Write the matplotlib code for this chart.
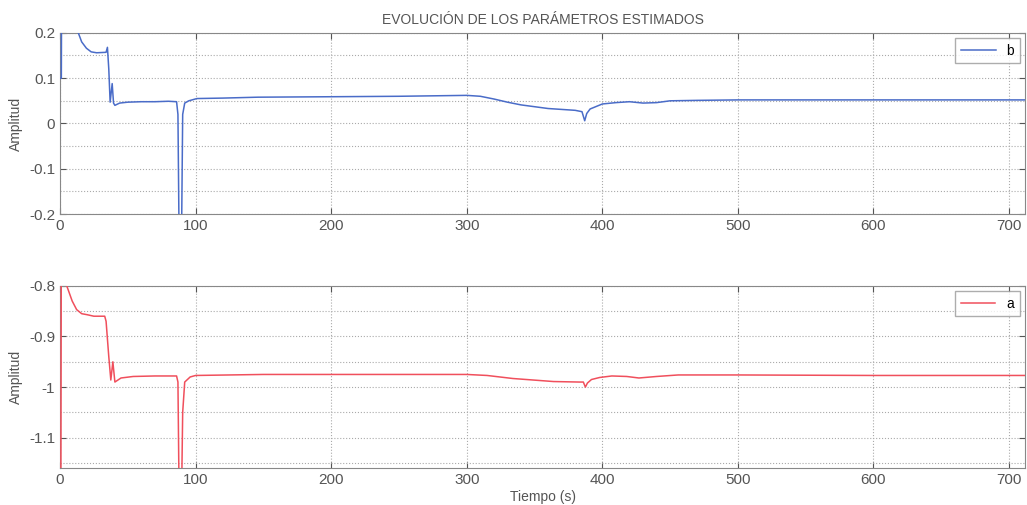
import matplotlib.pyplot as plt
from matplotlib.ticker import MultipleLocator

plt.rcParams['font.family'] = ['Liberation Sans', 'DejaVu Sans']

TITLE = "EVOLUCIÓN DE LOS PARÁMETROS ESTIMADOS"

# parámetro b
t_b = [0, 1.0, 1.2, 13.5, 16, 19.5, 23, 27, 34, 35, 36, 37, 38.5, 39.5, 40.5, 44, 50,
       60, 70, 80, 86, 87, 88, 89.5, 90.5, 92, 95, 101, 120, 146, 200, 250, 300, 310,
       320, 330, 340, 360, 380, 385, 387, 388.5, 391, 400, 410, 420, 430, 440, 450, 470,
       500, 550, 600, 650, 712]
b = [0.1, 0.1, 0.3, 0.2, 0.18, 0.166, 0.158, 0.156, 0.157, 0.168, 0.12, 0.047, 0.088,
     0.045, 0.040, 0.045, 0.047, 0.048, 0.048, 0.049, 0.048, 0.02, -0.3, -0.3, 0.02,
     0.045, 0.05, 0.055, 0.056, 0.058, 0.059, 0.060, 0.062, 0.060, 0.054, 0.047, 0.041,
     0.033, 0.029, 0.026, 0.006, 0.022, 0.032, 0.043, 0.046, 0.048, 0.045, 0.046,
     0.050, 0.051, 0.052, 0.052, 0.052, 0.052, 0.052]

# parámetro a
t_a = [0.3, 0.6, 1.0, 5, 9, 12.3, 16, 20, 25, 33, 34, 36, 37.5, 39, 40.5, 45, 54, 70, 86,
       87, 88, 89.5, 90.5, 92, 96, 100, 150, 200, 250, 300, 315, 334, 364, 383, 386,
       387.5, 389, 392, 398, 407, 418, 427, 440, 456, 500, 600, 712]
a = [-1.3, -1.3, -0.7, -0.8, -0.83, -0.847, -0.855, -0.857, -0.86, -0.86, -0.87,
     -0.94, -0.986, -0.95, -0.99, -0.982, -0.979, -0.978, -0.978, -0.99, -1.25, -1.25,
     -1.05, -0.99, -0.98, -0.977, -0.975, -0.975, -0.975, -0.975, -0.977, -0.983,
     -0.989, -0.99, -0.99, -1.0, -0.992, -0.985, -0.981, -0.978, -0.979, -0.982,
     -0.979, -0.976, -0.976, -0.977, -0.977]

BLUE = "#4a6cc8"
RED = "#f04f5c"
GRAY = "#555555"


def style_axes(ax, ylim, ymaj):
    ax.set_xlim(0, 712)
    ax.set_ylim(*ylim)
    ax.xaxis.set_major_locator(MultipleLocator(100))
    ax.yaxis.set_major_locator(MultipleLocator(ymaj))
    ax.yaxis.set_minor_locator(MultipleLocator(ymaj / 2))
    ax.grid(True, which="major", axis="x", linestyle=":", color="#aaaaaa", linewidth=0.8)
    ax.grid(True, which="both", axis="y", linestyle=":", color="#aaaaaa", linewidth=0.8)
    ax.tick_params(which="both", direction="in", right=True, top=True,
                   labelsize=11, colors=GRAY, length=4)
    ax.tick_params(which="minor", length=0)
    for sp in ax.spines.values():
        sp.set_color("#888888")
    ax.set_ylabel("Amplitud", fontsize=10, color=GRAY)


fig = plt.figure(figsize=(10.27, 5.05), dpi=100)
ax1 = fig.add_axes([0.0584, 0.576, 0.940, 0.359])
ax2 = fig.add_axes([0.0584, 0.073, 0.940, 0.361])

ax1.plot(t_b, b, color=BLUE, linewidth=1.1, label="b", zorder=3)
style_axes(ax1, (-0.2, 0.2), 0.1)
ax1.yaxis.set_major_formatter(lambda v, p: f"{v:g}")
ax1.set_title(TITLE, fontsize=10, color=GRAY, pad=6)
ax1.legend(loc="upper right", fontsize=10, frameon=True, edgecolor="#999999",
           fancybox=False, handlelength=2.5, borderaxespad=0.4)

ax2.plot(t_a, a, color=RED, linewidth=1.1, label="a", zorder=3)
style_axes(ax2, (-1.16, -0.8), 0.1)
ax2.yaxis.set_major_formatter(lambda v, p: f"{v:g}")
ax2.set_xlabel("Tiempo (s)", fontsize=10, color=GRAY, labelpad=2)
ax2.legend(loc="upper right", fontsize=10, frameon=True, edgecolor="#999999",
           fancybox=False, handlelength=2.5, borderaxespad=0.4)

fig.savefig("out.png", dpi=100)
